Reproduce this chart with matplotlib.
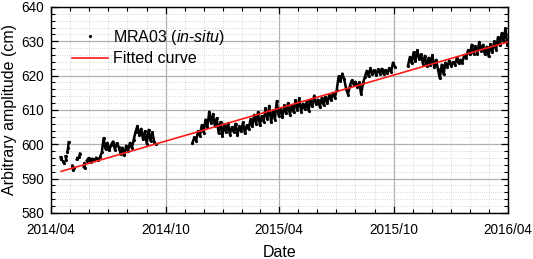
import numpy as np
import pandas as pd
import matplotlib
matplotlib.use("Agg")
import matplotlib.pyplot as plt
import matplotlib.dates as mdates

plt.rcParams['font.family'] = ['Liberation Sans', 'DejaVu Sans']
plt.rcParams['mathtext.fontset'] = 'custom'
plt.rcParams['mathtext.rm'] = 'Liberation Sans'
plt.rcParams['mathtext.it'] = 'Liberation Sans:italic'

# early scattered points (nan = break in the trace)
early_dates = ['2014-04-16', '2014-04-17', '2014-04-18', '2014-04-20', '2014-04-21', '2014-04-22',
               '2014-04-24', '2014-04-25', '2014-04-26', '2014-04-27', '2014-04-28', '2014-04-29',
               '2014-04-30', '2014-05-05', '2014-05-06', '2014-05-07', '2014-05-08', '2014-05-12',
               '2014-05-13', '2014-05-14', '2014-05-16', '2014-05-17', '2014-05-18', '2014-05-23',
               '2014-05-24', '2014-05-25']
early_vals = [596.2, 595.6, np.nan, 595.0, 594.6, np.nan,
              596.5, 595.4, np.nan, 597.8, 598.9, 600.6,
              np.nan, 593.8, 592.4, 593.2, np.nan, 595.6,
              596.0, np.nan, 596.4, 597.3, np.nan, 593.5,
              594.5, 593.2]

# continuous stretches, one value every 3 days
seg1_start = '2014-05-28'
seg1_vals = [595.2, 596.0, 594.9, 595.8, 595.3, 596.1, 595.4, 596.2, 597.6, 601.8,
             598.6, 600.4, 598.2, 599.9, 600.8, 598.4, 600.3, 599.2, 597.3, 599.0,
             596.8, 599.6, 598.0, 600.4, 598.9, 601.2, 603.6, 605.3, 602.8, 604.5,
             601.4, 603.8, 600.2, 604.2, 601.0, 603.5, 600.6, 600.0]

seg2_start = '2014-11-13'
seg2_vals = [600.3, 602.0, 601.0, 603.8, 602.5, 605.6, 603.4, 607.2, 605.0, 609.5,
             606.2, 608.8, 605.3, 607.6, 603.2, 606.5, 602.4, 605.8, 603.5, 606.2,
             602.8, 605.0, 603.6, 606.0, 602.6, 605.2, 603.8, 606.4, 603.2, 605.5,
             604.4, 607.3, 605.2, 608.6, 606.0, 609.4, 605.5, 608.2, 606.6, 610.5,
             607.4, 611.2, 606.4, 609.8, 607.2, 612.6, 608.3, 610.5, 607.8, 611.3,
             609.0, 612.0, 608.6, 611.4, 609.3, 612.8, 610.0, 613.4, 609.5, 611.8,
             610.2, 612.5, 609.8, 613.0, 611.2, 614.2, 611.6, 613.0, 610.8, 613.5,
             611.4, 613.8, 612.0, 614.5, 612.8, 615.0, 613.6, 615.8, 619.8, 618.4,
             620.6, 618.9, 616.2, 614.5, 617.0, 618.6, 617.4, 618.2, 616.6, 618.0,
             614.6, 617.8, 619.6, 621.4, 619.8, 622.2, 620.4, 621.6, 620.2, 621.8,
             620.6, 622.0, 620.4, 621.6, 620.8, 622.2, 621.0, 623.8, 622.6]

seg3_start = '2015-10-24'
seg3_vals = [622.8, 625.4, 623.6, 626.8, 624.2, 627.4, 624.8, 626.2, 623.4, 625.8,
             622.8, 625.2, 623.0, 626.0, 622.4, 624.6, 621.8, 619.2, 623.2, 620.4,
             623.8, 622.6, 624.4, 622.9, 624.0, 623.2, 625.0, 623.6, 624.6, 623.8,
             626.0, 625.0, 627.4, 626.2, 629.0, 626.4, 628.6, 626.4, 629.8, 627.2,
             629.0, 626.2, 628.4, 625.6, 629.2, 626.8, 630.0, 627.6, 631.2, 628.8,
             632.4, 630.0, 633.8, 629.0]

fit_dates = ['2014-04-17', '2016-04-01']
fit_vals = [592.1, 629.8]

segments = [(pd.to_datetime(early_dates), np.array(early_vals))]
for start, vals in [(seg1_start, seg1_vals), (seg2_start, seg2_vals), (seg3_start, seg3_vals)]:
    segments.append((pd.date_range(start, periods=len(vals), freq='3D'), np.array(vals)))

fig = plt.figure(figsize=(5.33, 2.59), dpi=100)
ax = fig.add_axes([0.096, 0.178, 0.857, 0.795])

for d, v in segments:
    ax.plot(d, v, '-', color='black', lw=1.8, zorder=3)
all_d = np.concatenate([s[0].values for s in segments])
all_v = np.concatenate([s[1] for s in segments])
ax.plot(all_d, all_v, ls='none', marker='.', ms=2.5, color='black', zorder=3,
        label=r'MRA03 ($\mathit{in}$-$\mathit{situ}$)')
ax.plot(pd.to_datetime(fit_dates), fit_vals, '-', color='#ff1a1a', lw=1.2, zorder=4,
        label='Fitted curve')

ax.set_xlim(pd.Timestamp('2014-04-01'), pd.Timestamp('2016-04-01'))
ax.set_ylim(580, 640)
ax.xaxis.set_major_locator(mdates.MonthLocator(bymonth=[4, 10]))
ax.xaxis.set_minor_locator(mdates.MonthLocator())
ax.xaxis.set_major_formatter(mdates.DateFormatter('%Y/%m'))
ax.set_yticks(np.arange(580, 641, 10))
ax.set_yticks(np.arange(580, 641, 2), minor=True)

ax.grid(which='major', color='#b0b0b0', lw=0.9, ls='-', zorder=0)
ax.grid(which='minor', color='#cccccc', lw=0.6, ls=':', zorder=0)
ax.set_axisbelow(True)

ax.tick_params(which='both', direction='in', top=True, right=True, labelsize=9.8)
ax.tick_params(which='major', length=5, width=0.9)
ax.tick_params(which='minor', length=3, width=0.8)
ax.tick_params(axis='x', pad=7)
ax.tick_params(axis='y', pad=5)
for s in ax.spines.values():
    s.set_linewidth(1.0)

ax.set_xlabel('Date', fontsize=11.5, labelpad=6)
ax.set_ylabel('Arbitrary amplitude (cm)', fontsize=11.5, labelpad=3)

ax.legend(loc='upper left', bbox_to_anchor=(0.045, 0.9), frameon=False, fontsize=11.5,
          handlelength=2.3, handletextpad=0.3, labelspacing=0.3, borderpad=0,
          borderaxespad=0, markerscale=1.0)

fig.savefig('out.png', dpi=100)
